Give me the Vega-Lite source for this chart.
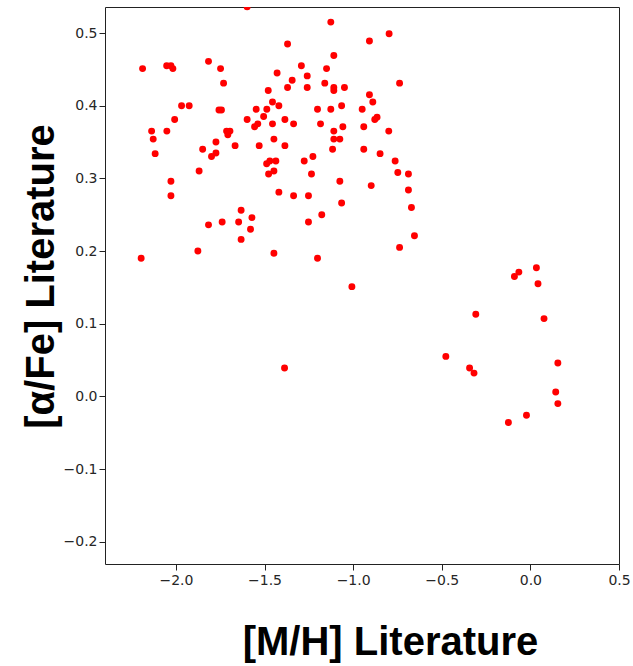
{
  "$schema": "https://vega.github.io/schema/vega-lite/v6.json",
  "autosize": "none",
  "padding": {"left": 105, "top": 7, "right": 14, "bottom": 102},
  "width": 514,
  "height": 557,
  "background": "white",
  "view": {"stroke": "#222222", "strokeWidth": 1},
  "data": {"values": [
    {"mh": -1.598, "afe": 0.536}, {"mh": -1.370, "afe": 0.485}, {"mh": -2.188, "afe": 0.451}, {"mh": -2.052, "afe": 0.455},
    {"mh": -2.028, "afe": 0.455}, {"mh": -2.017, "afe": 0.451}, {"mh": -1.816, "afe": 0.461}, {"mh": -1.748, "afe": 0.451},
    {"mh": -1.731, "afe": 0.431}, {"mh": -1.292, "afe": 0.455}, {"mh": -1.429, "afe": 0.445}, {"mh": -1.344, "afe": 0.435},
    {"mh": -1.370, "afe": 0.425}, {"mh": -1.479, "afe": 0.421}, {"mh": -1.968, "afe": 0.400}, {"mh": -1.925, "afe": 0.400},
    {"mh": -1.757, "afe": 0.394}, {"mh": -1.743, "afe": 0.394}, {"mh": -1.547, "afe": 0.395}, {"mh": -1.487, "afe": 0.395},
    {"mh": -1.455, "afe": 0.405}, {"mh": -1.419, "afe": 0.400}, {"mh": -1.505, "afe": 0.385}, {"mh": -1.598, "afe": 0.381},
    {"mh": -2.007, "afe": 0.381}, {"mh": -1.385, "afe": 0.381}, {"mh": -1.336, "afe": 0.375}, {"mh": -1.538, "afe": 0.375},
    {"mh": -1.556, "afe": 0.371}, {"mh": -1.455, "afe": 0.375}, {"mh": -2.137, "afe": 0.365}, {"mh": -2.128, "afe": 0.354},
    {"mh": -2.051, "afe": 0.365}, {"mh": -1.714, "afe": 0.365}, {"mh": -1.695, "afe": 0.365}, {"mh": -1.707, "afe": 0.360},
    {"mh": -1.774, "afe": 0.350}, {"mh": -1.849, "afe": 0.340}, {"mh": -1.666, "afe": 0.345}, {"mh": -1.530, "afe": 0.345},
    {"mh": -1.447, "afe": 0.354}, {"mh": -1.385, "afe": 0.345}, {"mh": -2.117, "afe": 0.334}, {"mh": -1.774, "afe": 0.335},
    {"mh": -1.799, "afe": 0.330}, {"mh": -1.488, "afe": 0.320}, {"mh": -1.470, "afe": 0.324}, {"mh": -1.436, "afe": 0.324},
    {"mh": -1.477, "afe": 0.306}, {"mh": -1.447, "afe": 0.310}, {"mh": -1.869, "afe": 0.310}, {"mh": -2.028, "afe": 0.296},
    {"mh": -2.028, "afe": 0.276}, {"mh": -1.419, "afe": 0.281}, {"mh": -1.336, "afe": 0.276}, {"mh": -1.632, "afe": 0.256},
    {"mh": -1.571, "afe": 0.246}, {"mh": -1.816, "afe": 0.236}, {"mh": -1.739, "afe": 0.240}, {"mh": -1.646, "afe": 0.240},
    {"mh": -1.579, "afe": 0.230}, {"mh": -1.632, "afe": 0.216}, {"mh": -1.876, "afe": 0.200}, {"mh": -2.196, "afe": 0.190},
    {"mh": -1.447, "afe": 0.197},
    {"mh": -1.126, "afe": 0.515}, {"mh": -0.797, "afe": 0.499}, {"mh": -0.908, "afe": 0.489}, {"mh": -1.109, "afe": 0.469},
    {"mh": -1.150, "afe": 0.451}, {"mh": -1.259, "afe": 0.441}, {"mh": -1.259, "afe": 0.425}, {"mh": -1.160, "afe": 0.431},
    {"mh": -1.109, "afe": 0.425}, {"mh": -1.109, "afe": 0.421}, {"mh": -1.049, "afe": 0.425}, {"mh": -0.738, "afe": 0.431},
    {"mh": -0.908, "afe": 0.415}, {"mh": -0.889, "afe": 0.405}, {"mh": -1.201, "afe": 0.395}, {"mh": -1.126, "afe": 0.395},
    {"mh": -1.065, "afe": 0.400}, {"mh": -0.949, "afe": 0.395}, {"mh": -1.184, "afe": 0.375}, {"mh": -0.878, "afe": 0.381},
    {"mh": -0.865, "afe": 0.384}, {"mh": -1.109, "afe": 0.365}, {"mh": -1.058, "afe": 0.371}, {"mh": -0.940, "afe": 0.371},
    {"mh": -0.799, "afe": 0.365}, {"mh": -1.109, "afe": 0.354}, {"mh": -1.075, "afe": 0.354}, {"mh": -1.116, "afe": 0.340},
    {"mh": -0.940, "afe": 0.340}, {"mh": -0.848, "afe": 0.334}, {"mh": -1.227, "afe": 0.330}, {"mh": -1.276, "afe": 0.324},
    {"mh": -0.763, "afe": 0.324}, {"mh": -1.235, "afe": 0.306}, {"mh": -0.748, "afe": 0.308}, {"mh": -0.688, "afe": 0.306},
    {"mh": -1.075, "afe": 0.296}, {"mh": -0.898, "afe": 0.290}, {"mh": -0.688, "afe": 0.284}, {"mh": -1.252, "afe": 0.276},
    {"mh": -1.065, "afe": 0.266}, {"mh": -0.671, "afe": 0.260}, {"mh": -1.177, "afe": 0.250}, {"mh": -1.252, "afe": 0.240},
    {"mh": -0.654, "afe": 0.221}, {"mh": -0.738, "afe": 0.205}, {"mh": -1.201, "afe": 0.190},
    {"mh": -1.007, "afe": 0.151}, {"mh": -1.387, "afe": 0.039},
    {"mh": 0.034, "afe": 0.177}, {"mh": -0.065, "afe": 0.171}, {"mh": -0.090, "afe": 0.165}, {"mh": 0.043, "afe": 0.155},
    {"mh": -0.308, "afe": 0.113}, {"mh": 0.077, "afe": 0.107}, {"mh": -0.477, "afe": 0.055}, {"mh": -0.343, "afe": 0.039},
    {"mh": -0.318, "afe": 0.032}, {"mh": 0.155, "afe": 0.046}, {"mh": 0.143, "afe": 0.006}, {"mh": 0.155, "afe": -0.010},
    {"mh": -0.022, "afe": -0.026}, {"mh": -0.124, "afe": -0.036}
  ]},
  "mark": {"type": "circle", "color": "#ff0000", "opacity": 1, "size": 48, "clip": true},
  "encoding": {
    "x": {
      "field": "mh", "type": "quantitative",
      "scale": {"domain": [-2.4, 0.5], "nice": false, "zero": false},
      "axis": {
        "title": "[M/H] Literature",
        "values": [-2, -1.5, -1, -0.5, 0, 0.5],
        "format": ".1f",
        "grid": false,
        "domain": false,
        "tickColor": "#222222", "tickSize": 6, "tickWidth": 1,
        "labelFont": "DejaVu Sans", "labelFontSize": 14, "labelColor": "#262626", "labelPadding": 3,
        "labelFlush": false, "labelOverlap": false,
        "titleFont": "Liberation Sans", "titleFontSize": 40, "titleFontWeight": "bold", "titleColor": "black",
        "titleX": 285, "titleY": 90, "titleAlign": "center", "titleBaseline": "alphabetic"
      }
    },
    "y": {
      "field": "afe", "type": "quantitative",
      "scale": {"domain": [-0.2307, 0.5358], "nice": false, "zero": false},
      "axis": {
        "title": "[α/Fe] Literature",
        "values": [-0.2, -0.1, 0, 0.1, 0.2, 0.3, 0.4, 0.5],
        "format": ".1f",
        "grid": false,
        "domain": false,
        "tickColor": "#222222", "tickSize": 6, "tickWidth": 1,
        "labelFont": "DejaVu Sans", "labelFontSize": 14, "labelColor": "#262626", "labelPadding": 2,
        "labelFlush": false, "labelOverlap": false,
        "titleFont": "Liberation Sans", "titleFontSize": 40, "titleFontWeight": "bold", "titleColor": "black",
        "titleAngle": -90, "titleX": -52, "titleY": 269, "titleAlign": "center", "titleBaseline": "alphabetic"
      }
    }
  }
}
